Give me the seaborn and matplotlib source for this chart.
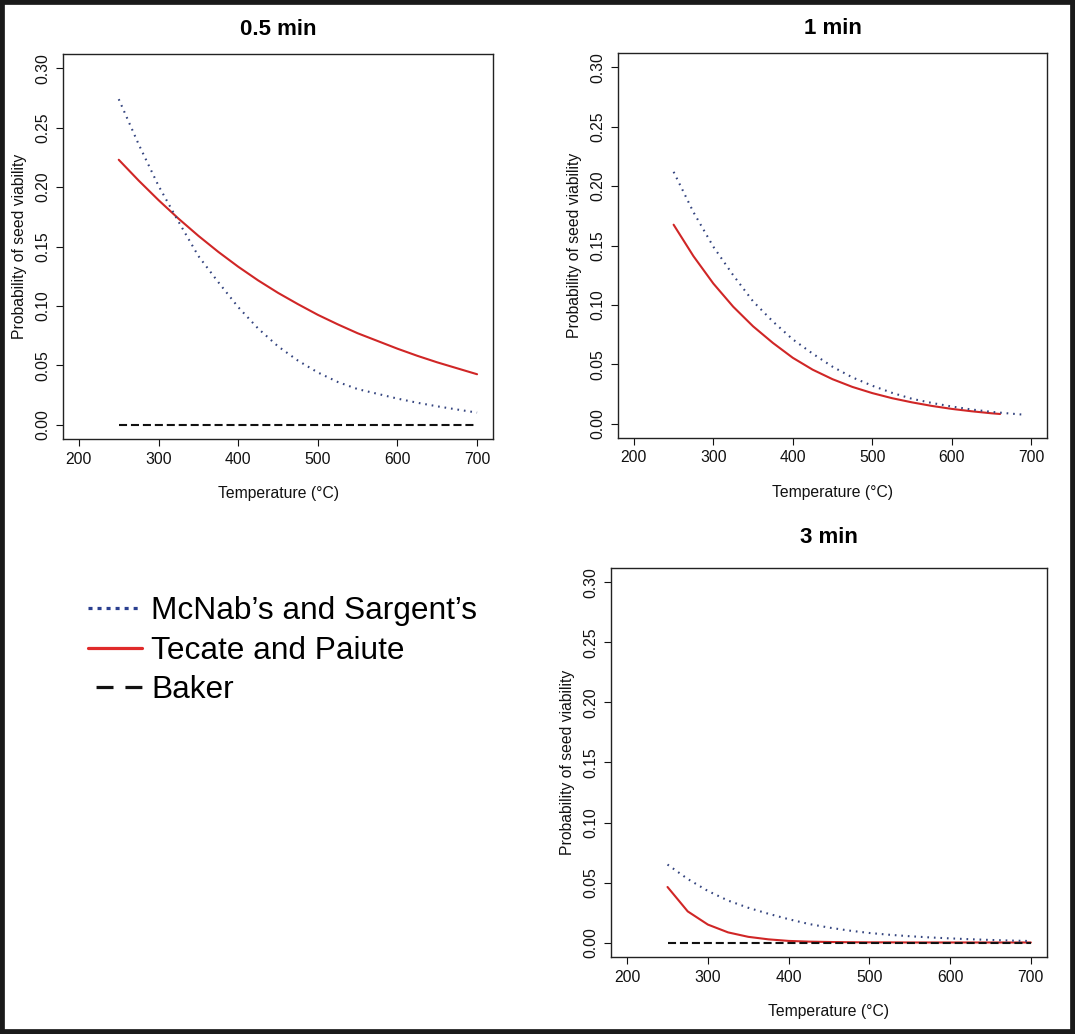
import matplotlib
matplotlib.use("Agg")
import matplotlib.pyplot as plt
from matplotlib.lines import Line2D
from matplotlib.patches import Rectangle
import seaborn as sns
import pandas as pd

# ---------------- data ----------------
temp_25 = [250, 275, 300, 325, 350, 375, 400, 425, 450, 475, 500,
           525, 550, 575, 600, 625, 650, 675, 700]

# 0.5 min
m05_mcnab = [0.274, 0.236, 0.201, 0.171, 0.142, 0.120, 0.099, 0.081, 0.066, 0.054, 0.044,
             0.036, 0.030, 0.026, 0.022, 0.0185, 0.0155, 0.0128, 0.0102]
m05_tecate = [0.223, 0.2055, 0.189, 0.1735, 0.159, 0.1455, 0.133, 0.1215, 0.111, 0.1015, 0.0925,
              0.0845, 0.077, 0.0705, 0.064, 0.058, 0.0525, 0.0475, 0.0425]
m05_baker = [0.0] * 19

# 1 min
m1_temp_mcnab = [250, 275, 300, 325, 350, 375, 400, 425, 450, 475, 500,
                 525, 550, 575, 600, 625, 650, 675, 693]
m1_mcnab = [0.212, 0.178, 0.149, 0.125, 0.103, 0.086, 0.071, 0.059, 0.048, 0.039, 0.032,
            0.026, 0.021, 0.0175, 0.0145, 0.012, 0.010, 0.0085, 0.0075]
m1_temp_tecate = [250, 275, 300, 325, 350, 375, 400, 425, 450, 475, 500,
                  525, 550, 575, 600, 625, 650, 661]
m1_tecate = [0.1675, 0.141, 0.118, 0.0985, 0.082, 0.068, 0.0555, 0.0455, 0.0375, 0.031, 0.0258,
             0.0215, 0.018, 0.015, 0.0125, 0.0105, 0.0088, 0.0082]

# 3 min
m3_mcnab = [0.065, 0.053, 0.043, 0.035, 0.029, 0.024, 0.0195, 0.0155, 0.0125, 0.010, 0.008,
            0.0065, 0.0053, 0.0043, 0.0035, 0.0028, 0.0022, 0.0017, 0.0013]
m3_tecate = [0.0463, 0.026, 0.015, 0.0085, 0.0048, 0.0027, 0.0014, 0.0008, 0.0005, 0.0003, 0.0002,
             0.0002, 0.0001, 0.0001, 0.0001, 0.0001, 0.0001, 0.0001, 0.0001]
m3_baker = [0.0] * 19

titles = ["0.5 min", "1 min", "3 min"]
series_labels = ["McNab\u2019s and Sargent\u2019s", "Tecate and Paiute", "Baker"]
x_ticks = [200, 300, 400, 500, 600, 700]
y_ticks = [0.00, 0.05, 0.10, 0.15, 0.20, 0.25, 0.30]
y_ticklabels = ["0.00", "0.05", "0.10", "0.15", "0.20", "0.25", "0.30"]

# ---------------- style ----------------
sns.set_style("ticks")
plt.rcParams["font.family"] = ["Liberation Sans", "DejaVu Sans"]
plt.rcParams["lines.scale_dashes"] = False

BLUE = "#34447f"
RED = "#d02626"
BLACK = "#111111"
TXT = "#111111"
DOT = (0, (1.2, 3.5))
DASH = (0, (5.8, 2.8))

fig = plt.figure(figsize=(10.75, 10.34), dpi=100)
W, H = 1075, 1034

def make_ax(left, top, right, bottom):
    return fig.add_axes([left / W, 1 - bottom / H, (right - left) / W, (bottom - top) / H])

ax1 = make_ax(63, 54, 493, 439)
ax2 = make_ax(618, 53, 1047, 438)
ax3 = make_ax(611, 568, 1047, 957)

panels = [
    (ax1, [(temp_25, m05_tecate, RED, "-", 1.5),
           (temp_25, m05_mcnab, BLUE, DOT, 1.5),
           (temp_25, m05_baker, BLACK, DASH, 1.5)]),
    (ax2, [(m1_temp_tecate, m1_tecate, RED, "-", 1.5),
           (m1_temp_mcnab, m1_mcnab, BLUE, DOT, 1.5)]),
    (ax3, [(temp_25, m3_tecate, RED, "-", 1.5),
           (temp_25, m3_mcnab, BLUE, DOT, 1.5),
           (temp_25, m3_baker, BLACK, DASH, 1.5)]),
]
title_pads = [14, 14, 18]

for (ax, lines), title, tpad in zip(panels, titles, title_pads):
    for xs, ys, col, ls, lw in lines:
        df = pd.DataFrame({"Temperature": xs, "Prob": ys})
        sns.lineplot(data=df, x="Temperature", y="Prob", ax=ax, color=col,
                     linestyle=ls, linewidth=lw, legend=False)
    ax.set_xlim(180, 720)
    ax.set_ylim(-0.012, 0.312)
    ax.set_xticks(x_ticks)
    ax.set_xticklabels([str(t) for t in x_ticks])
    ax.set_yticks(y_ticks)
    ax.set_yticklabels(y_ticklabels, rotation=90, va="center")
    ax.tick_params(axis="both", direction="out", length=5, width=0.8,
                   labelsize=11.3, colors=TXT, pad=4)
    for sp in ax.spines.values():
        sp.set_visible(True)
        sp.set_color("#222222")
        sp.set_linewidth(1.0)
    ax.set_xlabel("Temperature (\u00b0C)", fontsize=11.3, color=TXT, labelpad=14)
    ax.set_ylabel("Probability of seed viability", fontsize=11.3, color=TXT, labelpad=6)
    ax.set_title(title, fontsize=16, fontweight="bold", pad=tpad, color="#000000")

# ---------------- legend ----------------
handles = [
    Line2D([], [], color="#2a3f8f", lw=2.3, linestyle=(0, (2.9, 3.6))),
    Line2D([], [], color="#e02a2a", lw=2.3, linestyle="-"),
    Line2D([], [], color=BLACK, lw=2.3, linestyle=(15.0, (12.2, 8.6))),
]
leg = fig.legend(handles, series_labels, loc="center left",
                 bbox_to_anchor=(88 / W, 1 - 651 / H), frameon=False,
                 fontsize=22.8, handlelength=1.7, handletextpad=0.3,
                 labelspacing=0.3, borderpad=0, borderaxespad=0)
for t in leg.get_texts():
    t.set_color("#000000")

# ---------------- outer frame ----------------
fig.patches.append(Rectangle((0, 0), 1, 1, transform=fig.transFigure,
                             fill=False, edgecolor="#1a1a1a", linewidth=7,
                             clip_on=False))

fig.savefig("out.png", dpi=100)
